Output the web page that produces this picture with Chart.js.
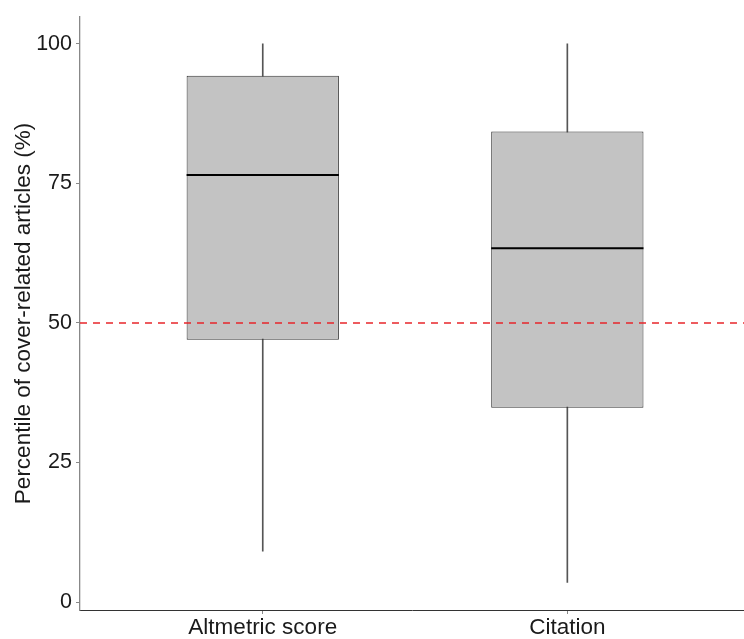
<!DOCTYPE html>
<html>
<head>
<meta charset="utf-8">
<script src="https://cdn.jsdelivr.net/npm/chart.js@4/dist/chart.umd.min.js"></script>
<style>
  html, body { margin: 0; padding: 0; background: #fff; overflow: hidden; }
  canvas { display: block; }
</style>
</head>
<body>
<canvas id="boxChart" width="744" height="639"></canvas>
<script>
// data
const categories = ['Altmetric score', 'Citation'];
const positions = [1, 2];
const whiskerLow = [9.1, 3.5];
const whiskerHigh = [100, 100];
const q1 = [47.0, 34.8];
const median = [76.5, 63.4];
const q3 = [94.3, 84.3];
const yTicks = [0, 25, 50, 75, 100];
const refLine = 50;

const FONT = "'Liberation Sans', Arial, sans-serif";
const halfBox = 0.25; // box is half a category wide

const whiskers = positions.map((x, i) => ({ x: x, y: [whiskerLow[i], whiskerHigh[i]] }));
const boxes = positions.map((x, i) => ({ x: x, y: [q1[i], q3[i]] }));
// median segments, broken by a null point between the boxes
const medianSegs = [];
positions.forEach((x, i) => {
    if (i > 0) medianSegs.push({ x: x - 0.5, y: null });
    medianSegs.push({ x: x - halfBox, y: median[i] }, { x: x + halfBox, y: median[i] });
});

const xMin = 0.4, xMax = 2.58;

new Chart(document.getElementById('boxChart'), {
    type: 'scatter',
    data: {
        datasets: [
            {
                type: 'line',
                data: [{ x: xMin, y: refLine }, { x: xMax, y: refLine }],
                borderColor: '#e8262b',
                borderWidth: 1.6,
                borderDash: [7, 6],
                pointRadius: 0,
                order: 0
            },
            {
                type: 'line',
                data: medianSegs,
                spanGaps: false,
                borderColor: '#000000',
                borderWidth: 2,
                pointRadius: 0,
                order: 1
            },
            {
                type: 'bar',
                data: boxes,
                backgroundColor: '#c3c3c3',
                borderColor: '#333333',
                borderWidth: 1,
                borderSkipped: false,
                grouped: false,
                categoryPercentage: 1,
                barPercentage: 0.5,
                order: 2
            },
            {
                type: 'bar',
                data: whiskers,
                backgroundColor: '#555555',
                barThickness: 1,
                grouped: false,
                order: 3
            }
        ]
    },
    options: {
        responsive: false,
        animation: false,
        events: [],
        layout: {
            padding: { top: 14, left: 0, right: 0, bottom: 0 }
        },
        plugins: {
            legend: { display: false },
            tooltip: { enabled: false }
        },
        scales: {
            x: {
                type: 'linear',
                min: xMin,
                max: xMax,
                offset: false,
                afterBuildTicks: (scale) => {
                    scale.ticks = positions.map(v => ({ value: v }));
                },
                afterFit: (scale) => { scale.height = 29; },
                grid: {
                    drawOnChartArea: false,
                    drawTicks: true,
                    tickLength: 4,
                    color: '#888888',
                    offset: false
                },
                border: { display: true, color: '#333333', width: 1 },
                ticks: {
                    color: '#1a1a1a',
                    padding: 0,
                    maxRotation: 0,
                    autoSkip: false,
                    font: { family: FONT, size: 22.5 },
                    callback: (v) => categories[positions.indexOf(v)]
                }
            },
            y: {
                type: 'linear',
                min: -1.43,
                max: 104.83,
                afterBuildTicks: (scale) => {
                    scale.ticks = yTicks.map(v => ({ value: v }));
                },
                afterFit: (scale) => { scale.width = 80; },
                grid: {
                    drawOnChartArea: false,
                    drawTicks: true,
                    tickLength: 4,
                    color: '#888888'
                },
                border: { display: true, color: '#888888', width: 1.3 },
                ticks: {
                    color: '#1a1a1a',
                    padding: 4,
                    font: { family: FONT, size: 21.5 }
                },
                title: {
                    display: true,
                    text: 'Percentile of cover-related articles (%)',
                    color: '#1a1a1a',
                    font: { family: FONT, size: 22.5 },
                    padding: { top: 10, bottom: 0 }
                }
            }
        }
    }
});
</script>
</body>
</html>
